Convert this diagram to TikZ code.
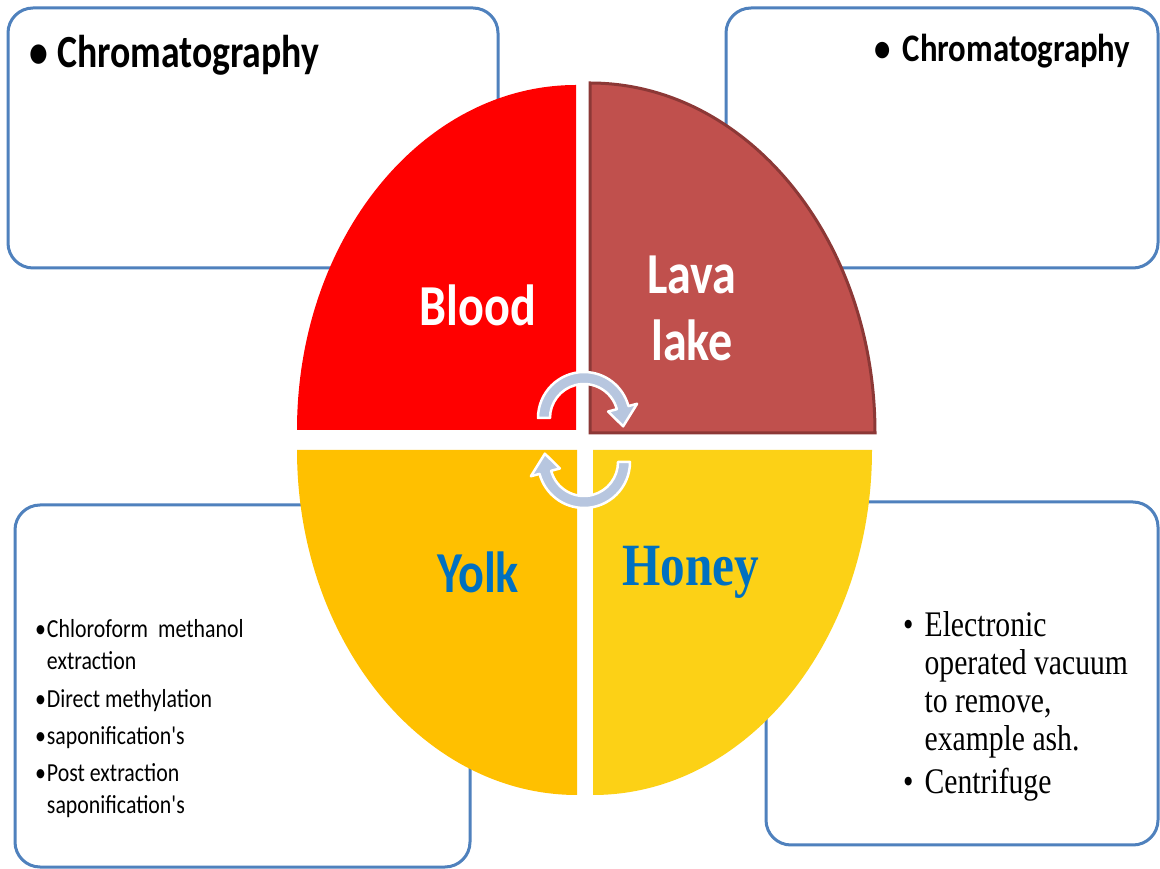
\documentclass[tikz,border=0pt]{standalone}
\usepackage{fontspec}
\setmainfont{Carlito}
\newfontfamily\plainfont{Carlito}[Ligatures=TeXOff]
\newfontfamily\seriffont{Liberation Serif}
\usepackage{graphicx}
\definecolor{boxblue}{HTML}{4F81BD}
\definecolor{bloodred}{HTML}{FF0000}
\definecolor{lavared}{HTML}{C0504D}
\definecolor{lavaedge}{HTML}{8C3836}
\definecolor{yolkc}{HTML}{FFC000}
\definecolor{honeyc}{HTML}{FCD116}
\definecolor{labelblue}{HTML}{0070C0}
\definecolor{arrowc}{HTML}{B7C6DF}
\begin{document}
\begin{tikzpicture}[x=1pt,y=1pt,
  infobox/.style={draw=boxblue, line width=3pt, fill=white, rounded corners=25pt},
  cyclearrow/.style={fill=arrowc, draw=white, line width=2.5pt, line join=round},
  label/.style={inner sep=0pt, align=center}]
\useasboundingbox[fill=white] (0,0) rectangle (1160,868);
% boxes
\draw[infobox] (8,600) rectangle (498,860);
\draw[infobox] (726,600) rectangle (1158,860);
\draw[infobox] (15,1) rectangle (470,363);
\draw[infobox] (766,23) rectangle (1158,366);
% box texts
\node[inner sep=0pt, anchor=base west] (tl) at (29,800)
  {\scalebox{0.82}[1]{\fontsize{46}{50}\selectfont\bfseries\makebox[34pt][l]{\textbullet}Chromatography}};
\node[inner sep=0pt, anchor=base west] (tr) at (874,806)
  {\scalebox{0.84}[1]{\fontsize{39}{44}\selectfont\bfseries\makebox[34pt][l]{\textbullet}Chromatography}};
\node[inner sep=0pt, anchor=base west] (bl) at (35,230)
  {\scalebox{0.84}[1]{\plainfont\fontsize{26}{32}\selectfont
   \begin{tabular}[t]{@{}l@{}l@{}}
   \makebox[14pt][l]{\textbullet} & Chloroform\hspace{6pt} methanol\\
   & extraction\\[6pt]
   \makebox[14pt][l]{\textbullet} & Direct methylation\\[5pt]
   \makebox[14pt][l]{\textbullet} & saponification's\\[5pt]
   \makebox[14pt][l]{\textbullet} & Post extraction\\
   & saponification's
   \end{tabular}}};
\node[inner sep=0pt, anchor=base west] (br) at (903,231)
  {\scalebox{0.824}[1]{\seriffont\fontsize{36}{37.7}\selectfont
   \begin{tabular}[t]{@{}l@{}l@{}}
   \makebox[26pt][l]{\textbullet} & Electronic\\
   & operated vacuum\\
   & to remove,\\
   & example ash.\\[5.5pt]
   \makebox[26pt][l]{\textbullet} & Centrifuge
   \end{tabular}}};
% quadrants
\fill[bloodred] (576,438) -- (297,438) arc[start angle=180, end angle=90, x radius=279pt, y radius=345pt] -- cycle;
\filldraw[fill=lavared, draw=lavaedge, line width=3pt] (590,435) -- (875,435) arc[start angle=0, end angle=90, x radius=285pt, y radius=350pt] -- cycle;
\fill[yolkc] (577,418) -- (297,418) arc[start angle=180, end angle=270, x radius=280pt, y radius=345pt] -- cycle;
\fill[honeyc] (593,418) -- (872,418) arc[start angle=0, end angle=-90, x radius=279pt, y radius=345pt] -- cycle;
% labels
\node[label, text=white] (blood) at (478,563)
  {\scalebox{0.83}[1]{\fontsize{58}{60}\selectfont\bfseries Blood}};
\node[label, text=white] (lava) at (692,554)
  {\scalebox{0.83}[1]{\fontsize{58}{67}\selectfont\bfseries\begin{tabular}{@{}c@{}}Lava\\lake\end{tabular}}};
\node[label, text=labelblue] (yolk) at (478,296)
  {\scalebox{0.83}[1]{\fontsize{58}{60}\selectfont\bfseries Yolk}};
\node[label, text=labelblue] (honey) at (691,296)
  {\scalebox{0.82}[1]{\seriffont\fontsize{60}{62}\selectfont\bfseries Honey}};
% cycle arrows
\begin{scope}[shift={(584,450)}]
\filldraw[cyclearrow] (180:46pt) arc[start angle=180, end angle=15, radius=46pt]
  -- (15:55pt) -- (-12:40pt) -- (15:25pt) -- (15:34pt)
  arc[start angle=15, end angle=180, radius=34pt] -- cycle;
\end{scope}
\begin{scope}[shift={(584,406)}]
\filldraw[cyclearrow] (0:46pt) arc[start angle=0, end angle=-165, radius=46pt]
  -- (-165:55pt) -- (-192:40pt) -- (-165:25pt) -- (-165:34pt)
  arc[start angle=-165, end angle=0, radius=34pt] -- cycle;
\end{scope}
\end{tikzpicture}
\end{document}
